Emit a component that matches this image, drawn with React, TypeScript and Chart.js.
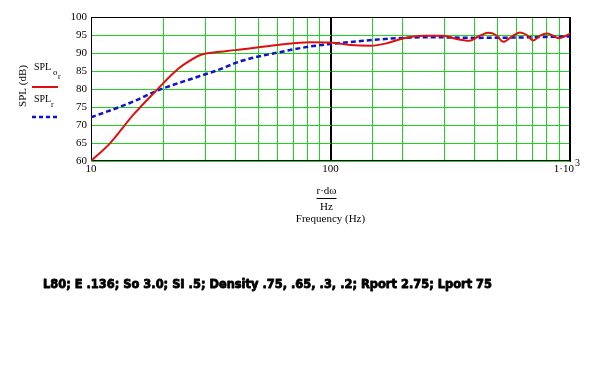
import React, { useEffect, useRef } from "react";
import { Chart, registerables } from "chart.js";

Chart.register(...registerables);

// Series SPL o_r (red, solid)
const freqOr = [10, 12, 15, 18.8, 22.4, 24.3, 29, 33, 40, 60, 82, 100, 121, 147, 172, 202, 245, 297, 330, 380, 420, 455, 490, 527, 570, 618, 660, 703, 750, 800, 850, 900, 950, 1000];
const splOr = [60, 64.9, 72.8, 79.7, 84.8, 86.7, 89.6, 90.2, 90.8, 92.2, 93.0, 92.9, 92.2, 92.0, 92.7, 94.1, 94.8, 94.8, 94.0, 93.4, 94.8, 95.6, 95.0, 93.1, 94.5, 95.7, 95.0, 93.5, 94.8, 95.4, 94.8, 94.1, 94.6, 95.4];

// Series SPL r (blue, dashed)
const freqR = [10, 15, 18.5, 28.5, 33, 43, 60, 82, 100, 137, 189, 261, 400, 600, 1000];
const splR = [72.1, 76.5, 79.3, 83.6, 85.0, 87.9, 90.1, 91.8, 92.5, 93.4, 94.1, 94.4, 94.2, 94.3, 94.6];

const xLabelValues = [10, 100];
const yMin = 60;
const yMax = 100;
const yStep = 5;
const xMin = 10;
const xMax = 1000;

const caption = "L80; E .136; So 3.0; SI .5; Density .75, .65, .3, .2; Rport 2.75; Lport 75";
const yTitle = "SPL (dB)";
const xTitleTop = "r\u00B7d\u03C9";
const xTitleBottom = "Hz";
const xTitleName = "Frequency (Hz)";

const GREEN = "#1fd41f";
const RED = "#dd1111";
const BLUE = "#1111cc";
const SERIF = "'Liberation Serif', 'DejaVu Serif', serif";

const decorPlugin = {
  id: "decor",
  beforeDatasetsDraw(chart: any) {
    const ctx = chart.ctx;
    const { left, right, top, bottom } = chart.chartArea;
    const xs = chart.scales.x;
    const ys = chart.scales.y;
    ctx.save();
    // horizontal grid lines from the y scale's ticks
    ctx.strokeStyle = GREEN;
    ctx.lineWidth = 1;
    ys.ticks.forEach((t: any) => {
      const py = Math.round(ys.getPixelForValue(t.value)) + 0.5;
      ctx.beginPath();
      ctx.moveTo(left, py);
      ctx.lineTo(right, py);
      ctx.stroke();
    });
    ctx.strokeStyle = "#000";
    const x100 = Math.round(xs.getPixelForValue(100)) + 0.5;
    ctx.beginPath();
    ctx.moveTo(x100, top);
    ctx.lineTo(x100, bottom);
    ctx.stroke();
    ctx.strokeRect(Math.round(left) + 0.5, Math.round(top) + 0.5, Math.round(right - left) - 1, Math.round(bottom - top) - 1);
    ctx.restore();
  },
  afterDraw(chart: any) {
    const ctx = chart.ctx;
    const { left, right, bottom } = chart.chartArea;
    const xs = chart.scales.x;
    ctx.save();
    ctx.fillStyle = "#000";
    // x tick labels
    ctx.font = `11px ${SERIF}`;
    ctx.textAlign = "center";
    ctx.textBaseline = "top";
    xLabelValues.forEach((v) => {
      ctx.fillText(String(v), xs.getPixelForValue(v), bottom + 3);
    });
    const xEnd = xs.getPixelForValue(xMax);
    ctx.textAlign = "right";
    ctx.fillText("1\u00B710", xEnd + 4, bottom + 3);
    ctx.textAlign = "left";
    ctx.font = `10px ${SERIF}`;
    ctx.fillText("3", xEnd + 5, bottom - 3);

    // x title
    const cx = (left + right) / 2;
    const c100 = xs.getPixelForValue(100);
    ctx.textAlign = "center";
    ctx.font = `11px ${SERIF}`;
    ctx.textBaseline = "alphabetic";
    ctx.fillText(xTitleTop, c100 - 4, 194);
    ctx.fillRect(c100 - 14, 198, 20, 1);
    ctx.fillText(xTitleBottom, c100 - 4, 210);
    ctx.fillText(xTitleName, cx, 222);

    // y title
    ctx.save();
    ctx.translate(26, 86);
    ctx.rotate(-Math.PI / 2);
    ctx.textAlign = "center";
    ctx.fillText(yTitle, 0, 0);
    ctx.restore();

    // legend
    ctx.textAlign = "left";
    ctx.font = `10px ${SERIF}`;
    ctx.fillText("SPL", 34, 70);
    ctx.font = `9px ${SERIF}`;
    ctx.fillText("o", 53, 75);
    ctx.font = `8px ${SERIF}`;
    ctx.fillText("r", 58, 79);
    ctx.strokeStyle = RED;
    ctx.lineWidth = 2;
    ctx.beginPath();
    ctx.moveTo(32, 87);
    ctx.lineTo(58, 87);
    ctx.stroke();
    ctx.font = `10px ${SERIF}`;
    ctx.fillText("SPL", 34, 102);
    ctx.font = `8px ${SERIF}`;
    ctx.fillText("r", 51, 107);
    ctx.strokeStyle = BLUE;
    ctx.lineWidth = 2.5;
    ctx.setLineDash([4, 3]);
    ctx.beginPath();
    ctx.moveTo(32, 117);
    ctx.lineTo(58, 117);
    ctx.stroke();
    ctx.setLineDash([]);

    // caption
    ctx.font = `bold 13px 'DejaVu Sans', sans-serif`;
    const w = ctx.measureText(caption).width;
    ctx.translate(43, 288);
    ctx.scale(449 / w, 1);
    ctx.textAlign = "left";
    ctx.strokeStyle = "#000";
    ctx.lineWidth = 0.9;
    ctx.lineJoin = "round";
    ctx.strokeText(caption, 0, 0);
    ctx.fillText(caption, 0, 0);
    ctx.restore();
  },
};

export default function App() {
  const ref = useRef<HTMLCanvasElement | null>(null);
  useEffect(() => {
    if (!ref.current) return;
    const chart = new Chart(ref.current, {
      type: "scatter",
      data: {
        datasets: [
          {
            label: "SPL o_r",
            data: freqOr.map((f, i) => ({ x: f, y: splOr[i] })),
            showLine: true,
            borderColor: RED,
            backgroundColor: RED,
            borderWidth: 2,
            pointRadius: 0,
            cubicInterpolationMode: "monotone",
          },
          {
            label: "SPL r",
            data: freqR.map((f, i) => ({ x: f, y: splR[i] })),
            showLine: true,
            borderColor: BLUE,
            backgroundColor: BLUE,
            borderWidth: 2.5,
            borderDash: [5, 3],
            pointRadius: 0,
            cubicInterpolationMode: "monotone",
          },
        ],
      },
      options: {
        animation: false,
        responsive: false,
        devicePixelRatio: 1,
        layout: { padding: { left: 0, right: 22, top: 17, bottom: 0 } },
        plugins: { legend: { display: false }, tooltip: { enabled: false }, title: { display: false } },
        scales: {
          x: {
            type: "logarithmic",
            min: xMin,
            max: xMax,
            ticks: { display: false },
            grid: {
              drawTicks: false,
              color: (c: any) => (c.tick && (c.tick.value === 100 || c.tick.value === 10 || c.tick.value === 1000) ? "#000" : GREEN),
              lineWidth: 1,
            },
            border: { display: true, color: "#000" },
            afterFit: (s: any) => {
              s.height = 223;
            },
          },
          y: {
            type: "linear",
            min: yMin,
            max: yMax,
            ticks: { stepSize: yStep, color: "#000", font: { family: SERIF, size: 11 }, padding: 4 },
            grid: { display: false, drawTicks: false },
            border: { display: true, color: "#000" },
            afterFit: (s: any) => {
              s.width = 91;
            },
          },
        },
      },
      plugins: [decorPlugin],
    } as any);
    return () => chart.destroy();
  }, []);
  return (
    <div style={{ position: "absolute", left: 0, top: 0, width: 592, height: 384, background: "#fff" }}>
      <canvas ref={ref} width={592} height={384} />
    </div>
  );
}
